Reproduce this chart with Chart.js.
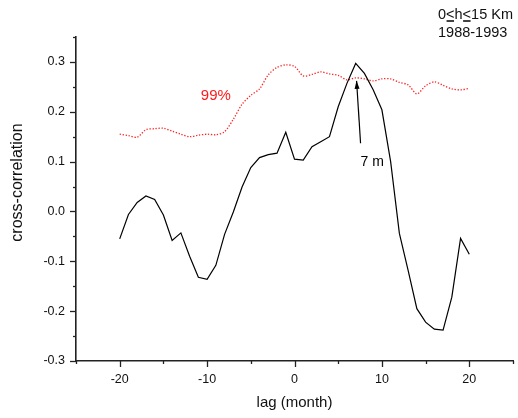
<!DOCTYPE html>
<html><head><meta charset="utf-8">
<script src="https://cdn.jsdelivr.net/npm/chart.js@4/dist/chart.umd.min.js"></script>
<style>html,body{margin:0;padding:0;background:#fff;}#wrap{width:518px;height:418px;}</style>
</head><body><div id="wrap"><canvas id="c" width="518" height="418"></canvas></div>
<script>
const lags = [-20,-19,-18,-17,-16,-15,-14,-13,-12,-11,-10,-9,-8,-7,-6,-5,-4,-3,-2,-1,0,1,2,3,4,5,6,7,8,9,10,11,12,13,14,15,16,17,18,19,20];
const crossCorrelation = [-0.055,-0.006,0.018,0.031,0.024,-0.007,-0.058,-0.043,-0.090,-0.132,-0.136,-0.108,-0.046,-0.001,0.049,0.088,0.108,0.114,0.117,0.159,0.105,0.103,0.130,0.140,0.150,0.210,0.257,0.297,0.277,0.244,0.204,0.100,-0.044,-0.118,-0.195,-0.222,-0.236,-0.238,-0.172,-0.054,-0.086];
const significance99 = [0.155,0.152,0.149,0.164,0.166,0.167,0.161,0.155,0.150,0.153,0.155,0.154,0.160,0.185,0.215,0.233,0.246,0.274,0.289,0.294,0.291,0.272,0.275,0.280,0.276,0.273,0.264,0.268,0.266,0.262,0.266,0.266,0.259,0.254,0.236,0.252,0.260,0.253,0.246,0.244,0.247];
const xTickLabels = ['-20','-10','0','10','20'];
const yTickLabels = ['-0.3','-0.2','-0.1','0.0','0.1','0.2','0.3'];
const xTitle = 'lag (month)';
const yTitle = 'cross-correlation';
const sigLabel = '99%';
const peakLabel = '7 m';
const infoLine1 = ['0', '<', 'h', '<', '15 Km'];
const infoLine2 = '1988-1993';

const FONT = "'Liberation Sans', Arial, Helvetica, sans-serif";
const AXIS = '#222';

function labelFor(list, v) {
  const f = list.find(l => Math.abs(parseFloat(l) - v) < 1e-6);
  return f === undefined ? '' : f;
}

const tickPlugin = {
  id: 'ticks',
  afterDraw(chart) {
    const ctx = chart.ctx;
    const xs = chart.scales.x, ys = chart.scales.y;
    const ca = chart.chartArea;
    ctx.save();
    ctx.strokeStyle = AXIS;
    ctx.lineWidth = 1.3;
    xs.ticks.forEach(t => {
      const px = Math.round(xs.getPixelForValue(t.value)) + 0.5;
      const major = labelFor(xTickLabels, t.value) !== '';
      ctx.beginPath(); ctx.moveTo(px, ca.bottom); ctx.lineTo(px, ca.bottom + (major ? 6 : 3)); ctx.stroke();
    });
    ys.ticks.forEach(t => {
      const py = Math.round(ys.getPixelForValue(t.value)) + 0.5;
      const major = labelFor(yTickLabels, t.value) !== '';
      ctx.beginPath(); ctx.moveTo(ca.left, py); ctx.lineTo(ca.left - (major ? 6 : 3), py); ctx.stroke();
    });
    ctx.restore();
  }
};

const annotPlugin = {
  id: 'annot',
  afterDatasetsDraw(chart) {
    const ctx = chart.ctx;
    const xs = chart.scales.x, ys = chart.scales.y;
    ctx.save();
    ctx.fillStyle = '#ff1a1a';
    ctx.font = '15px ' + FONT;
    ctx.textAlign = 'center'; ctx.textBaseline = 'middle';
    ctx.fillText(sigLabel, xs.getPixelForValue(-9.0), ys.getPixelForValue(0.232));
    const x1 = xs.getPixelForValue(7.56), y1 = ys.getPixelForValue(0.137);
    const x2 = xs.getPixelForValue(7.1), y2 = ys.getPixelForValue(0.262);
    ctx.strokeStyle = '#000'; ctx.fillStyle = '#000'; ctx.lineWidth = 1.2;
    ctx.beginPath(); ctx.moveTo(x1, y1); ctx.lineTo(x2, y2); ctx.stroke();
    const ang = Math.atan2(y2 - y1, x2 - x1);
    const L = 8, W = 2.5;
    ctx.beginPath();
    ctx.moveTo(x2, y2);
    ctx.lineTo(x2 - L * Math.cos(ang) + W * Math.sin(ang), y2 - L * Math.sin(ang) - W * Math.cos(ang));
    ctx.lineTo(x2 - L * Math.cos(ang) - W * Math.sin(ang), y2 - L * Math.sin(ang) + W * Math.cos(ang));
    ctx.closePath(); ctx.fill();
    ctx.font = '14px ' + FONT;
    ctx.fillText(peakLabel, xs.getPixelForValue(8.9), ys.getPixelForValue(0.098));
    ctx.restore();
  },
  afterDraw(chart) {
    const ctx = chart.ctx;
    const ys = chart.scales.y;
    ctx.save();
    ctx.fillStyle = '#111';
    ctx.font = '16px ' + FONT;
    ctx.textAlign = 'center'; ctx.textBaseline = 'middle';
    ctx.translate(18, ys.getPixelForValue(0.058));
    ctx.rotate(-Math.PI / 2);
    ctx.fillText(yTitle, 0, 0);
    ctx.restore();
    ctx.save();
    ctx.fillStyle = '#111';
    ctx.font = '14.5px ' + FONT;
    ctx.textAlign = 'left'; ctx.textBaseline = 'alphabetic';
    let x = 438, y = 19;
    ctx.strokeStyle = '#111'; ctx.lineWidth = 1.6;
    infoLine1.forEach(s => {
      const w = ctx.measureText(s).width;
      ctx.fillText(s, x, y);
      if (s === '<') { ctx.beginPath(); ctx.moveTo(x + 0.5, y + 2); ctx.lineTo(x + w - 0.5, y + 2); ctx.stroke(); }
      x += w;
    });
    ctx.fillText(infoLine2, 438, 37);
    ctx.restore();
  }
};

new Chart(document.getElementById('c'), {
  type: 'line',
  data: {
    labels: lags,
    datasets: [
      { label: 'cross-correlation', data: lags.map((l, i) => ({x: l, y: crossCorrelation[i]})),
        borderColor: '#000', borderWidth: 1.2, pointRadius: 0, tension: 0, fill: false },
      { label: '99%', data: lags.map((l, i) => ({x: l, y: significance99[i]})),
        borderColor: '#ff2020', borderWidth: 1.3, borderDash: [1.3, 1.7], pointRadius: 0, tension: 0.3, fill: false }
    ]
  },
  options: {
    responsive: false, animation: false, devicePixelRatio: 1,
    layout: { padding: { top: 37, right: 2, left: 0, bottom: 0 } },
    plugins: { legend: { display: false }, tooltip: { enabled: false } },
    scales: {
      x: {
        type: 'linear', min: -25, max: 25,
        afterFit: s => { s.height = 57; },
        grid: { display: true, drawOnChartArea: false, drawTicks: true, tickLength: 6, tickColor: 'rgba(0,0,0,0)' },
        border: { display: true, color: AXIS, width: 1.6 },
        ticks: { stepSize: 5, autoSkip: false, maxRotation: 0, padding: 5, color: '#111', font: { family: FONT, size: 12.5 },
                 callback: v => labelFor(xTickLabels, v) },
        title: { display: true, text: xTitle, color: '#111', font: { family: FONT, size: 15 }, padding: { top: 0, bottom: 6 } }
      },
      y: {
        type: 'linear', min: -0.3, max: 0.35,
        afterFit: s => { s.width = 76; },
        grid: { display: true, drawOnChartArea: false, drawTicks: true, tickLength: 6, tickColor: 'rgba(0,0,0,0)' },
        border: { display: true, color: AXIS, width: 1.6 },
        ticks: { stepSize: 0.05, autoSkip: false, padding: 5, color: '#111', font: { family: FONT, size: 12.5 },
                 callback: v => labelFor(yTickLabels, v) },
        title: { display: false }
      }
    }
  },
  plugins: [tickPlugin, annotPlugin]
});
</script></body></html>
